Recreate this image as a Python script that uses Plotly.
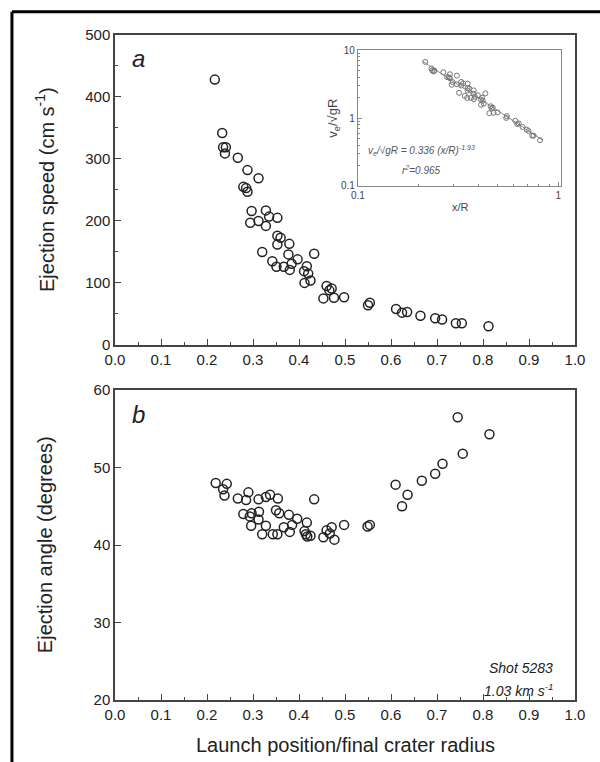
import plotly.graph_objects as go

# panel a: ejection speed (cm/s) vs launch position x/R
speed_x = [0.217, 0.233, 0.235, 0.241, 0.239, 0.267, 0.288, 0.312, 0.279, 0.285,
           0.288, 0.297, 0.328, 0.294, 0.312, 0.335, 0.353, 0.328, 0.353, 0.360,
           0.353, 0.379, 0.320, 0.377, 0.433, 0.397, 0.342, 0.384, 0.351, 0.367,
           0.380, 0.417, 0.411, 0.420, 0.425, 0.412, 0.460, 0.471, 0.466, 0.453,
           0.476, 0.498, 0.550, 0.554, 0.611, 0.624, 0.635, 0.664, 0.696, 0.711,
           0.741, 0.754, 0.812]
speed_y = [428, 342, 319, 319, 309, 302, 282, 269, 255, 253,
           247, 216, 217, 197, 200, 207, 205, 192, 176, 173,
           162, 163, 150, 146, 147, 138, 135, 131, 126, 126,
           121, 127, 119, 115, 104, 100, 95, 91, 88, 75,
           76, 77, 64, 68, 58, 52, 53, 47, 43, 41,
           35, 35, 30]

# panel b: ejection angle (degrees)
angle_x = [0.219, 0.243, 0.235, 0.238, 0.267, 0.285, 0.290, 0.312, 0.328, 0.337,
           0.354, 0.433, 0.279, 0.297, 0.313, 0.293, 0.312, 0.350, 0.357, 0.378,
           0.396, 0.417, 0.296, 0.328, 0.320, 0.343, 0.353, 0.367, 0.380, 0.385,
           0.412, 0.415, 0.418, 0.425, 0.453, 0.460, 0.471, 0.467, 0.477, 0.498,
           0.549, 0.554, 0.610, 0.624, 0.636, 0.667, 0.696, 0.712, 0.745, 0.756,
           0.814]
angle_y = [48.0, 47.9, 47.2, 46.4, 46.0, 45.8, 46.8, 45.9, 46.2, 46.5,
           46.0, 45.9, 44.0, 44.1, 44.3, 43.7, 43.3, 44.5, 44.1, 43.9,
           43.4, 42.9, 42.5, 42.5, 41.4, 41.4, 41.4, 42.3, 41.7, 42.6,
           41.8, 41.4, 41.1, 41.2, 41.0, 41.9, 42.3, 41.5, 40.7, 42.6,
           42.4, 42.6, 47.8, 45.0, 46.5, 48.3, 49.2, 50.5, 56.5, 51.8,
           54.3]

# inset: scaled speed v_e / sqrt(gR), sqrt(gR) in cm/s
sqrt_gR = 63.5
inset_y = [v / sqrt_gR for v in speed_y]
fit_x = [0.21, 0.84]
fit_y = [6.9, 0.47]

font = "Liberation Sans, Arial, sans-serif"
axcol = "#444"

fig = go.Figure()

# main scatter traces
fig.add_trace(go.Scatter(x=speed_x, y=speed_y, mode="markers", xaxis="x", yaxis="y",
                         marker=dict(symbol="circle-open", size=9, color="#222",
                                     line=dict(width=1.5, color="#222"))))
fig.add_trace(go.Scatter(x=angle_x, y=angle_y, mode="markers", xaxis="x2", yaxis="y2",
                         marker=dict(symbol="circle-open", size=9, color="#222",
                                     line=dict(width=1.5, color="#222"))))
# inset
fig.add_trace(go.Scatter(x=fit_x, y=fit_y, mode="lines", xaxis="x3", yaxis="y3",
                         line=dict(color="#888", width=1)))
fig.add_trace(go.Scatter(x=speed_x, y=inset_y, mode="markers", xaxis="x3", yaxis="y3",
                         marker=dict(symbol="circle-open", size=5, color="#777",
                                     line=dict(width=1, color="#777"))))

common_x = dict(range=[0, 1.0], dtick=0.1, tickformat=".1f", ticks="inside",
                ticklen=6, tickcolor=axcol, showline=True, linecolor=axcol,
                linewidth=1.5, mirror=True, showgrid=False, zeroline=False,
                tickfont=dict(size=15, color="#222"),
                minor=dict(ticks="inside", ticklen=3, dtick=0.05, tickcolor=axcol))

fig.update_layout(
    width=600, height=762,
    paper_bgcolor="white", plot_bgcolor="white",
    showlegend=False, hovermode=False,
    font=dict(family=font, color="#222"),
    margin=dict(l=115, r=25, t=35, b=62),
    xaxis=dict(common_x, domain=[0, 1], anchor="y"),
    yaxis=dict(range=[0, 500], dtick=100, ticks="inside", ticklen=6, tickcolor=axcol,
               showline=True, linecolor=axcol, linewidth=1.5, mirror=True,
               showgrid=False, zeroline=False, domain=[0.534, 1], anchor="x",
               tickfont=dict(size=15, color="#222"),
               minor=dict(ticks="inside", ticklen=3, dtick=50, tickcolor=axcol)),
    xaxis2=dict(common_x, domain=[0, 1], anchor="y2"),
    yaxis2=dict(range=[20, 60], dtick=10, ticks="inside", ticklen=6, tickcolor=axcol,
                showline=True, linecolor=axcol, linewidth=1.5, mirror=True,
                showgrid=False, zeroline=False, domain=[0, 0.466], anchor="x2",
                tickfont=dict(size=15, color="#222")),
    xaxis3=dict(type="log", range=[-1, 0.015], domain=[0.528, 0.97], anchor="y3",
                tickvals=[0.1, 1], ticktext=["0.1", "1"], ticks="inside", ticklen=4,
                tickcolor="#888", showline=True, linecolor="#888", linewidth=1,
                mirror=True, showgrid=False, zeroline=False,
                tickfont=dict(size=10, color="#444"),
                minor=dict(ticks="inside", ticklen=2, tickcolor="#888",
                           tickvals=[0.2, 0.3, 0.4, 0.5, 0.6, 0.7, 0.8, 0.9])),
    yaxis3=dict(type="log", range=[-1, 1], domain=[0.773, 0.977], anchor="x3",
                tickvals=[0.1, 1, 10], ticktext=["0.1", "1", "10"], ticks="inside",
                ticklen=4, tickcolor="#888", showline=True, linecolor="#888",
                linewidth=1, mirror=True, showgrid=False, zeroline=False,
                tickfont=dict(size=10, color="#444"),
                minor=dict(ticks="inside", ticklen=2, tickcolor="#888",
                           tickvals=[0.2, 0.3, 0.4, 0.5, 0.6, 0.7, 0.8, 0.9,
                                     2, 3, 4, 5, 6, 7, 8, 9])),
)

# outer frame (open to right and bottom)
fig.add_shape(type="line", xref="paper", yref="paper", x0=-0.224, x1=-0.224,
              y0=1.035, y1=-0.12, line=dict(color="black", width=3))
fig.add_shape(type="line", xref="paper", yref="paper", x0=-0.224, x1=1.1,
              y0=1.035, y1=1.035, line=dict(color="black", width=3))

ann = [
    dict(text="Ejection speed (cm s<sup>-1</sup>)", x=-0.152, y=0.767, textangle=-90,
         font=dict(size=20)),
    dict(text="Ejection angle (degrees)", x=-0.152, y=0.233, textangle=-90,
         font=dict(size=20)),
    dict(text="Launch position/final crater radius", x=0.5, y=-0.068,
         font=dict(size=20)),
    dict(text="<i>a</i>", x=0.05, y=0.965, font=dict(size=24)),
    dict(text="<i>b</i>", x=0.05, y=0.429, font=dict(size=24)),
    dict(text="<i>Shot 5283</i>", x=0.957, y=0.048, xanchor="right",
         font=dict(size=14)),
    dict(text="<i>1.03 km s<sup>-1</sup></i>", x=0.957, y=0.015, xanchor="right",
         font=dict(size=14)),
    dict(text="v<sub>e</sub>/√gR", x=0.475, y=0.875, textangle=-90,
         font=dict(size=13, color="#444")),
    dict(text="x/R", x=0.75, y=0.742, font=dict(size=11, color="#444")),
    dict(text="<i>v<sub>e</sub>/√gR = 0.336 (x/R)<sup>-1.93</sup></i>", x=0.545,
         y=0.827, xanchor="left", font=dict(size=10, color="#555")),
    dict(text="<i>r<sup>2</sup>=0.965</i>", x=0.62, y=0.797, xanchor="left",
         font=dict(size=10, color="#555")),
]
for a in ann:
    a.setdefault("xanchor", "center")
    a["yanchor"] = "middle"
    fig.add_annotation(xref="paper", yref="paper", showarrow=False, **a)

# drop the default 8px page margin so the figure fills the window exactly
fig.write_html("out.html", config={"displayModeBar": False},
               post_script="document.body.style.margin = '0px';")
